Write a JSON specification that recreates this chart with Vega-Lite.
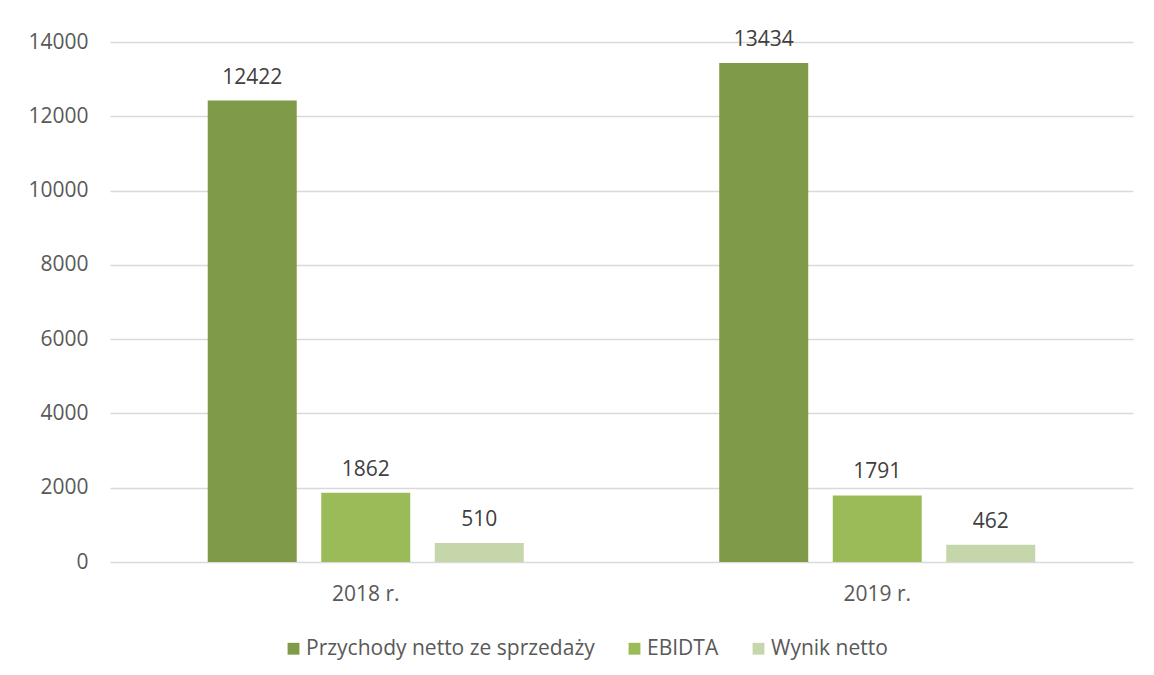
{
  "$schema": "https://vega.github.io/schema/vega-lite/v6.json",
  "width": 1023,
  "height": 520,
  "autosize": {"type": "none"},
  "padding": {"left": 110, "top": 42, "right": 21, "bottom": 113},
  "background": "#ffffff",
  "config": {
    "view": {"stroke": null},
    "font": "Open Sans"
  },
  "data": {
    "values": [
      {"rok": "2018 r.", "seria": "Przychody netto ze sprzedaży", "wartosc": 12422},
      {"rok": "2018 r.", "seria": "EBIDTA", "wartosc": 1862},
      {"rok": "2018 r.", "seria": "Wynik netto", "wartosc": 510},
      {"rok": "2019 r.", "seria": "Przychody netto ze sprzedaży", "wartosc": 13434},
      {"rok": "2019 r.", "seria": "EBIDTA", "wartosc": 1791},
      {"rok": "2019 r.", "seria": "Wynik netto", "wartosc": 462}
    ]
  },
  "encoding": {
    "x": {
      "field": "rok", "type": "nominal",
      "scale": {"paddingInner": 0, "paddingOuter": 0},
      "axis": {"title": null, "labelAngle": 0, "domain": false, "ticks": false,
               "labelFontSize": 21, "labelColor": "#595959", "labelPadding": 21, "labelFont": "Open Sans"}
    },
    "xOffset": {
      "field": "seria", "type": "nominal",
      "sort": ["Przychody netto ze sprzedaży", "EBIDTA", "Wynik netto"],
      "scale": {"paddingInner": 0.216, "paddingOuter": 0.861}
    },
    "y": {
      "field": "wartosc", "type": "quantitative",
      "scale": {"domain": [0, 14000], "nice": false},
      "axis": {"title": null, "values": [0, 2000, 4000, 6000, 8000, 10000, 12000, 14000],
               "domain": false, "ticks": false, "gridColor": "#D9D9D9", "gridWidth": 1.5,
               "labelFontSize": 21, "labelColor": "#595959", "labelPadding": 22, "labelFont": "Open Sans", "format": "d"}
    }
  },
  "layer": [
    {
      "mark": {"type": "bar"},
      "encoding": {
        "color": {
          "field": "seria", "type": "nominal",
          "sort": ["Przychody netto ze sprzedaży", "EBIDTA", "Wynik netto"],
          "scale": {"domain": ["Przychody netto ze sprzedaży", "EBIDTA", "Wynik netto"],
                    "range": ["#7F9A48", "#9BBB59", "#C5D6AA"]},
          "legend": {
            "title": null, "orient": "none", "direction": "horizontal",
            "legendX": 173, "legendY": 596,
            "symbolType": "square", "symbolSize": 140, "symbolStrokeWidth": 0,
            "labelFontSize": 21, "labelColor": "#595959", "labelFont": "Open Sans",
            "columnPadding": 29, "labelOffset": 2, "labelLimit": 400
          }
        }
      }
    },
    {
      "mark": {"type": "text", "baseline": "bottom", "dy": -13, "fontSize": 21, "color": "#404040", "font": "Open Sans"},
      "encoding": {"text": {"field": "wartosc", "type": "quantitative", "format": "d"}}
    }
  ]
}
